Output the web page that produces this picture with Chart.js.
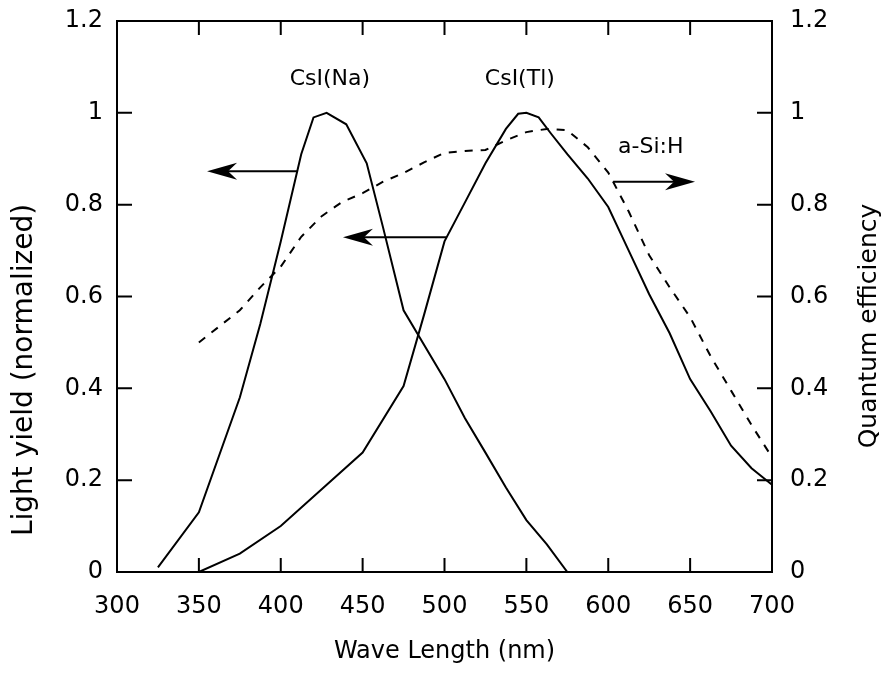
<!DOCTYPE html>
<html>
<head>
<meta charset="utf-8">
<script src="https://cdn.jsdelivr.net/npm/chart.js@4.4.0/dist/chart.umd.min.js"></script>
<style>
  html, body { margin: 0; padding: 0; background: #fff; }
  #wrap { width: 884px; height: 674px; }
</style>
</head>
<body>
<div id="wrap"><canvas id="chart"></canvas></div>
<script>
// CsI(Na) emission (left axis)
const naX = [325, 350, 375, 387.5, 400, 412.5, 420, 428, 440, 452.5, 462.5, 475, 500, 512.5, 525, 537.5, 550, 562.5, 575];
const naY = [0.01, 0.13, 0.38, 0.54, 0.72, 0.91, 0.99, 1.0, 0.975, 0.89, 0.75, 0.57, 0.42, 0.335, 0.26, 0.184, 0.113, 0.06, 0.0];

// CsI(Tl) emission (left axis)
const tlX = [350, 375, 400, 425, 450, 475, 487.5, 500, 512.5, 525, 537.5, 545, 550, 557.5, 565, 575, 587.5, 600, 612.5, 625, 637.5, 650, 662.5, 675, 687.5, 700];
const tlY = [0.0, 0.04, 0.10, 0.18, 0.26, 0.405, 0.56, 0.72, 0.805, 0.89, 0.965, 0.998, 1.0, 0.99, 0.955, 0.91, 0.857, 0.795, 0.70, 0.605, 0.52, 0.42, 0.35, 0.275, 0.226, 0.19];

// a-Si:H quantum efficiency (right axis)
const siX = [350, 362.5, 375, 387.5, 400, 412.5, 425, 437.5, 450, 462.5, 475, 487.5, 500, 512.5, 525, 537.5, 550, 562.5, 575, 587.5, 600, 612.5, 625, 637.5, 650, 662.5, 675, 687.5, 700];
const siY = [0.50, 0.535, 0.57, 0.62, 0.665, 0.73, 0.775, 0.806, 0.825, 0.85, 0.869, 0.892, 0.913, 0.917, 0.919, 0.94, 0.958, 0.965, 0.962, 0.925, 0.87, 0.785, 0.69, 0.62, 0.555, 0.47, 0.395, 0.32, 0.25];

const xTicks = [300, 350, 400, 450, 500, 550, 600, 650, 700];
const yTicks = [0, 0.2, 0.4, 0.6, 0.8, 1, 1.2];

// curve labels and arrows (data coordinates)
const labelText = ["CsI(Na)", "CsI(Tl)", "a-Si:H"];
const labelX = [430, 546, 626];
const labelY = [1.072, 1.072, 0.924];
const arrowFrom = [410, 501, 603];
const arrowTo = [355, 438, 653];
const arrowY = [0.873, 0.729, 0.85];

const pts = (xs, ys) => xs.map((v, i) => ({ x: v, y: ys[i] }));
const fmt = v => String(+Number(v).toFixed(1));

Chart.defaults.font.family = "'DejaVu Sans', sans-serif";
Chart.defaults.color = '#000';

const extras = {
  id: 'extras',
  afterDraw(chart) {
    const { ctx, chartArea: a, scales: { x, y } } = chart;
    ctx.save();
    ctx.strokeStyle = '#000';
    ctx.fillStyle = '#000';
    ctx.lineWidth = 2;
    // top border
    ctx.beginPath();
    ctx.moveTo(a.left, a.top);
    ctx.lineTo(a.right, a.top);
    ctx.stroke();
    // inward tick marks
    ctx.beginPath();
    xTicks.slice(1, -1).forEach(v => {
      const px = x.getPixelForValue(v);
      ctx.moveTo(px, a.bottom); ctx.lineTo(px, a.bottom - 14);
      ctx.moveTo(px, a.top); ctx.lineTo(px, a.top + 14);
    });
    yTicks.slice(1, -1).forEach(v => {
      const py = y.getPixelForValue(v);
      ctx.moveTo(a.left, py); ctx.lineTo(a.left + 15, py);
      ctx.moveTo(a.right, py); ctx.lineTo(a.right - 15, py);
    });
    ctx.stroke();

    // arrows
    arrowFrom.forEach((f, i) => {
      const x0 = x.getPixelForValue(f);
      const x1 = x.getPixelForValue(arrowTo[i]);
      const py = y.getPixelForValue(arrowY[i]);
      const dir = Math.sign(x1 - x0);
      ctx.beginPath();
      ctx.moveTo(x0, py);
      ctx.lineTo(x1 - dir * 20, py);
      ctx.stroke();
      ctx.beginPath();
      ctx.moveTo(x1, py);
      ctx.lineTo(x1 - dir * 30, py - 8.5);
      ctx.lineTo(x1 - dir * 21, py);
      ctx.lineTo(x1 - dir * 30, py + 8.5);
      ctx.closePath();
      ctx.fill();
    });

    // curve labels
    ctx.font = "22px 'DejaVu Sans'";
    ctx.textAlign = 'center';
    ctx.textBaseline = 'middle';
    labelText.forEach((t, i) => {
      ctx.fillText(t, x.getPixelForValue(labelX[i]), y.getPixelForValue(labelY[i]));
    });

    // axis titles, both reading bottom to top
    ctx.textBaseline = 'alphabetic';
    ctx.save();
    ctx.font = "28px 'DejaVu Sans'";
    ctx.translate(32, 370);
    ctx.rotate(-Math.PI / 2);
    ctx.fillText('Light yield (normalized)', 0, 0);
    ctx.restore();

    ctx.font = "25px 'DejaVu Sans'";
    ctx.translate(876, 326);
    ctx.rotate(-Math.PI / 2);
    ctx.fillText('Quantum efficiency', 0, 0);
    ctx.restore();
  }
};

const noPadY = s => { s.paddingTop = 0; s.paddingBottom = 0; };

new Chart(document.getElementById('chart'), {
  type: 'line',
  data: {
    datasets: [
      { label: 'CsI(Na)', data: pts(naX, naY), yAxisID: 'y', borderColor: '#000', borderWidth: 2 },
      { label: 'CsI(Tl)', data: pts(tlX, tlY), yAxisID: 'y', borderColor: '#000', borderWidth: 2 },
      { label: 'a-Si:H', data: pts(siX, siY), yAxisID: 'y2', borderColor: '#000', borderWidth: 2, borderDash: [8, 8] }
    ]
  },
  options: {
    responsive: true,
    maintainAspectRatio: false,
    animation: false,
    layout: { padding: { top: 21, left: 0, right: 0, bottom: 0 } },
    elements: { point: { radius: 0 }, line: { tension: 0, fill: false } },
    plugins: { legend: { display: false }, tooltip: { enabled: false } },
    scales: {
      x: {
        type: 'linear', position: 'bottom', min: 300, max: 700,
        afterBuildTicks: s => { s.ticks = xTicks.map(v => ({ value: v })); },
        afterFit: s => { s.height = 102; s.paddingLeft = 0; s.paddingRight = 0; },
        ticks: { font: { size: 24 }, padding: 20, maxRotation: 0, autoSkip: false },
        grid: { display: false, drawTicks: false },
        border: { display: true, color: '#000', width: 2 },
        title: { display: true, text: 'Wave Length (nm)', font: { size: 24 }, padding: { top: 0, bottom: 8 } }
      },
      y: {
        position: 'left', min: 0, max: 1.2,
        afterBuildTicks: s => { s.ticks = yTicks.map(v => ({ value: v })); },
        afterFit: s => { s.width = 117; noPadY(s); },
        ticks: { font: { size: 24 }, padding: 14, callback: fmt },
        grid: { display: false, drawTicks: false },
        border: { display: true, color: '#000', width: 2 }
      },
      y2: {
        position: 'right', min: 0, max: 1.2,
        afterBuildTicks: s => { s.ticks = yTicks.map(v => ({ value: v })); },
        afterFit: s => { s.width = 112; noPadY(s); },
        ticks: { font: { size: 24 }, padding: 18, callback: fmt },
        grid: { display: false, drawTicks: false },
        border: { display: true, color: '#000', width: 2 }
      }
    }
  },
  plugins: [extras]
});
</script>
</body>
</html>
